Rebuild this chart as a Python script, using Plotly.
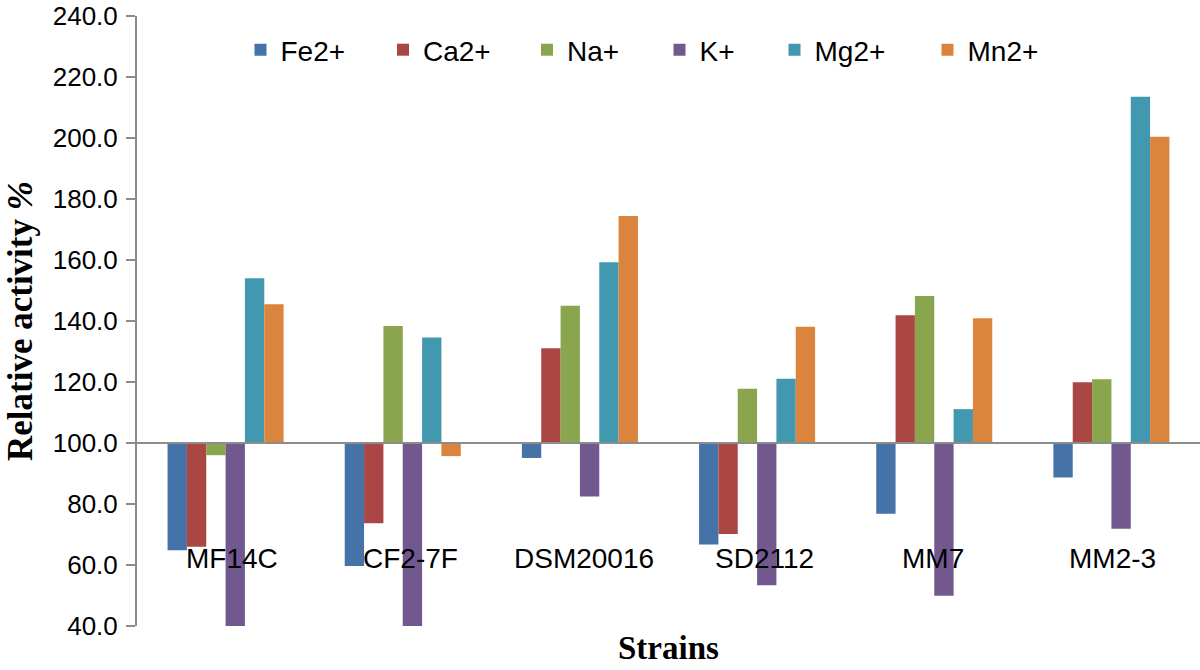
import plotly.graph_objects as go

strains = ["MF14C", "CF2-7F", "DSM20016", "SD2112", "MM7", "MM2-3"]
ions = ["Fe2+", "Ca2+", "Na+", "K+", "Mg2+", "Mn2+"]
fe = [64.8, 59.7, 95.1, 66.7, 76.8, 88.7]
ca = [66.0, 73.7, 131.1, 70.2, 141.9, 119.9]
na = [96.0, 138.4, 145.0, 117.8, 148.2, 120.9]
k = [39.5, 39.5, 82.5, 53.4, 49.9, 71.9]
mg = [154.0, 134.6, 159.3, 121.1, 111.1, 213.5]
mn = [145.5, 95.7, 174.4, 138.1, 140.9, 200.4]
series = [fe, ca, na, k, mg, mn]
colors = ["#4572A7", "#AA4643", "#89A54E", "#71588F", "#4198AF", "#DB843D"]
baseline = 100
y_ticks = [40, 60, 80, 100, 120, 140, 160, 180, 200, 220, 240]

W, H = 1200, 670
ML = 137
MT = 16
plot_bottom = 626
MB = H - plot_bottom
MR = 0
PW = W - ML - MR
PH = H - MT - MB


def px_to_paper_x(px):
    return (px - ML) / PW


def px_to_paper_y(py):
    return 1 - (py - MT) / PH


marker_centers = [260.5, 403, 547, 679.5, 794.5, 947.5]
legend_names = ["legend", "legend2", "legend3", "legend4", "legend5", "legend6"]
label_xshift = [6, 8, 4, 7, -1, 1]

fig = go.Figure()
for i, (name, vals, col) in enumerate(zip(ions, series, colors)):
    fig.add_trace(go.Bar(
        x=strains,
        y=[v - baseline for v in vals],
        base=baseline,
        name=name,
        marker=dict(color=col, line=dict(width=0)),
        legend=legend_names[i],
        customdata=vals,
        hovertemplate="%{x}<br>" + name + ": %{customdata:.1f}<extra></extra>",
    ))

leg_font = dict(family="Liberation Sans, Arial, sans-serif", size=28, color="#000000")
layout_legends = {}
for i, ln in enumerate(legend_names):
    layout_legends[ln] = dict(
        x=px_to_paper_x(marker_centers[i] - 20),
        xanchor="left",
        y=px_to_paper_y(50),
        yanchor="middle",
        orientation="h",
        font=leg_font,
        bgcolor="rgba(0,0,0,0)",
        borderwidth=0,
    )

fig.update_layout(
    width=W, height=H,
    margin=dict(l=ML, r=MR, t=MT, b=MB, pad=0),
    paper_bgcolor="white",
    plot_bgcolor="white",
    barmode="group",
    bargap=0.345,
    bargroupgap=0,
    showlegend=True,
    font=dict(family="Liberation Sans, Arial, sans-serif", color="#000000"),
    xaxis=dict(
        showticklabels=False, showline=False, ticks="", showgrid=False,
        zeroline=False, categoryorder="array", categoryarray=strains,
    ),
    yaxis=dict(
        range=[40, 240],
        tickvals=y_ticks,
        ticktext=[f"{v:.1f}" for v in y_ticks],
        showgrid=False,
        zeroline=False,
        showline=True,
        linecolor="#8c8c8c",
        linewidth=2,
        ticks="outside",
        ticklen=9,
        tickwidth=2,
        tickcolor="#8c8c8c",
        tickfont=dict(family="Liberation Sans, Arial, sans-serif", size=26, color="#000000"),
        ticklabelstandoff=3,
        ticklabeloverflow="allow",
    ),
    **layout_legends,
)

fig.add_shape(type="line", xref="paper", yref="y", x0=0, x1=1, y0=baseline, y1=baseline,
              line=dict(color="#8c8c8c", width=2), layer="above")

for s, dx in zip(strains, label_xshift):
    fig.add_annotation(x=s, y=62, xref="x", yref="y", text=s, showarrow=False,
                       xanchor="center", yanchor="middle", xshift=dx,
                       font=dict(family="Liberation Sans, Arial, sans-serif", size=28, color="#000000"))

fig.add_annotation(x=px_to_paper_x(20), y=px_to_paper_y(321), xref="paper", yref="paper",
                   text="<b>Relative activity <i>%</i></b>", textangle=-90, showarrow=False,
                   xanchor="center", yanchor="middle",
                   font=dict(family="Liberation Serif, Times New Roman, serif", size=35, color="#000000"))
fig.add_annotation(x=px_to_paper_x(668), y=px_to_paper_y(648), xref="paper", yref="paper",
                   text="<b>Strains</b>", showarrow=False, xanchor="center", yanchor="middle",
                   font=dict(family="Liberation Serif, Times New Roman, serif", size=33, color="#000000"))

fig.write_html("out.html", config={"displayModeBar": False},
               post_script="document.body.style.margin='0';")
